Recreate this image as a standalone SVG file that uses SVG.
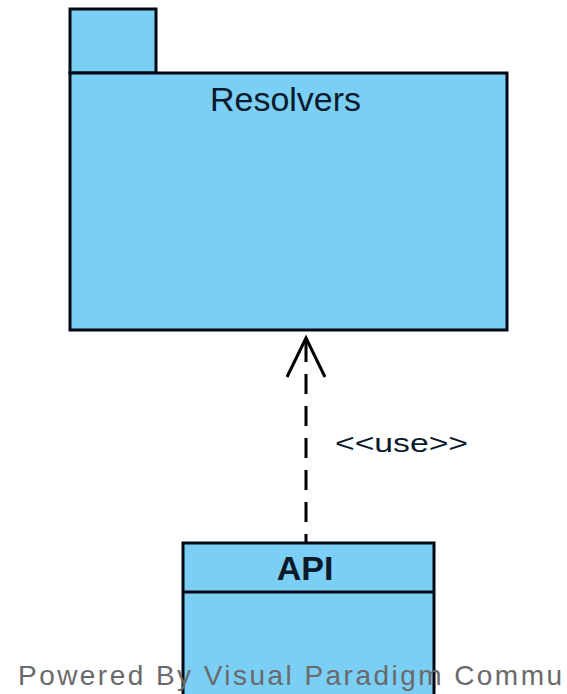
<svg xmlns="http://www.w3.org/2000/svg" width="567" height="694" viewBox="0 0 567 694">
<style>
.shape{fill:#7BCEF4;stroke:#000814;stroke-width:3}
.lbl{font-family:"Liberation Sans",Arial,sans-serif;fill:#0a1a2a}
</style>
<rect width="567" height="694" fill="#fff"/>
<g id="resolvers">
<rect class="shape" x="70" y="9" width="86" height="64"/>
<rect class="shape" x="70" y="73" width="437" height="257"/>
<text class="lbl" x="210" y="111" font-size="34" textLength="151" lengthAdjust="spacingAndGlyphs">Resolvers</text>
</g>
<g id="api">
<rect class="shape" x="183" y="543" width="251" height="160"/>
<line x1="183" y1="592" x2="434" y2="592" stroke="#000814" stroke-width="3"/>
<text class="lbl" x="305" y="580" font-size="34" font-weight="bold" text-anchor="middle">API</text>
</g>
<g id="connectors">
<line x1="306" y1="342" x2="306" y2="543" stroke="#000" stroke-width="3" stroke-dasharray="20,12"/>
<polyline points="287,377 306,338 325,377" fill="none" stroke="#000" stroke-width="3"/>
<text class="lbl" x="335" y="452" font-size="25" textLength="133" lengthAdjust="spacingAndGlyphs">&lt;&lt;use&gt;&gt;</text>
</g>
<text x="18" y="685" font-family="Liberation Sans,Arial,sans-serif" font-size="28" fill="#6a6a6a" textLength="544" lengthAdjust="spacing">Powered By Visual Paradigm Commu</text>
</svg>
